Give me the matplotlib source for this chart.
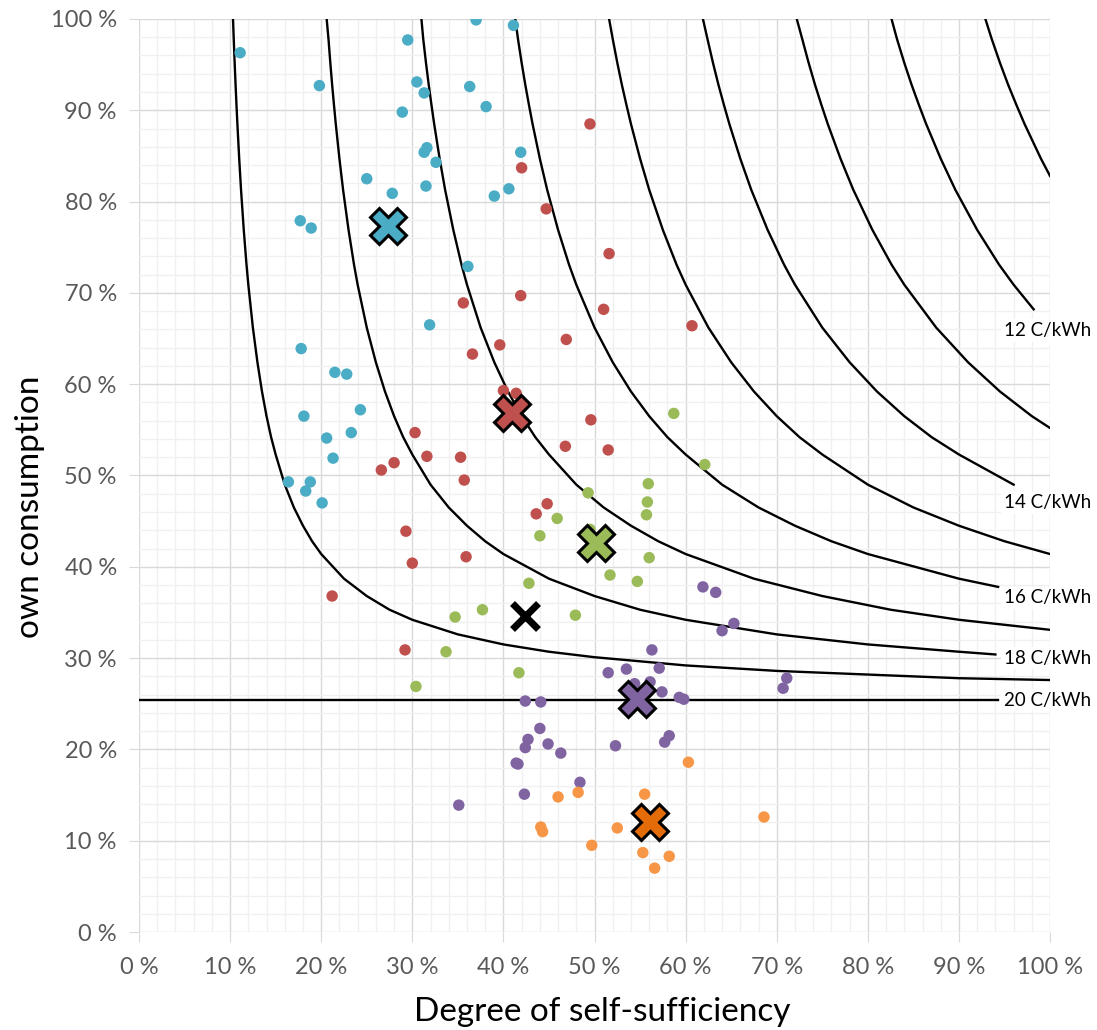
import matplotlib.pyplot as plt
from matplotlib.ticker import FuncFormatter, MultipleLocator

plt.rcParams["font.family"] = ["Lato", "DejaVu Sans"]

# Measured households: (self-sufficiency %, own consumption %)
BLUE_X = [11.1, 19.8, 29.5, 37.0, 41.1, 30.5, 31.3, 28.9, 36.3, 38.1, 41.9, 31.3, 31.6,
          32.6, 25.0, 27.8, 31.5, 39.0, 40.6, 17.7, 18.9, 36.1, 31.9, 17.8, 21.5, 22.8,
          24.3, 18.1, 23.3, 20.6, 21.3, 16.4, 18.8, 18.3, 20.1]
BLUE_Y = [96.3, 92.7, 97.7, 99.9, 99.3, 93.1, 91.9, 89.8, 92.6, 90.4, 85.4, 85.4, 85.9,
          84.3, 82.5, 80.9, 81.7, 80.6, 81.4, 77.9, 77.1, 72.9, 66.5, 63.9, 61.3, 61.1,
          57.2, 56.5, 54.7, 54.1, 51.9, 49.3, 49.3, 48.3, 47.0]

RED_X = [49.5, 42.0, 44.7, 51.6, 41.9, 51.0, 35.6, 60.7, 36.6, 39.6, 46.9, 40.0, 41.4,
         49.6, 51.5, 46.8, 30.3, 28.0, 26.6, 31.6, 35.3, 35.7, 43.6, 44.8, 29.3, 30.0,
         35.9, 21.2, 29.2]
RED_Y = [88.5, 83.7, 79.2, 74.3, 69.7, 68.2, 68.9, 66.4, 63.3, 64.3, 64.9, 59.3, 59.0,
         56.1, 52.8, 53.2, 54.7, 51.4, 50.6, 52.1, 52.0, 49.5, 45.8, 46.9, 43.9, 40.4,
         41.1, 36.8, 30.9]

GREEN_X = [58.7, 62.1, 49.3, 55.9, 55.8, 55.7, 45.9, 44.0, 49.5, 56.0, 51.7, 54.7, 42.8,
           37.7, 34.7, 47.9, 33.7, 30.4, 41.7]
GREEN_Y = [56.8, 51.2, 48.1, 49.1, 47.1, 45.7, 45.3, 43.4, 44.1, 41.0, 39.1, 38.4, 38.2,
           35.3, 34.5, 34.7, 30.7, 26.9, 28.4]

PURPLE_X = [61.9, 63.3, 65.3, 64.0, 56.3, 53.5, 51.5, 57.1, 54.4, 56.1, 57.4, 59.3, 59.8,
            71.1, 70.7, 42.4, 44.1, 44.0, 42.7, 42.4, 44.9, 46.3, 41.4, 41.6, 52.3, 57.7,
            58.2, 48.4, 42.3, 35.1, 53.7]
PURPLE_Y = [37.8, 37.2, 33.8, 33.0, 30.9, 28.8, 28.4, 28.9, 27.2, 27.4, 26.3, 25.7, 25.5,
            27.8, 26.7, 25.3, 25.2, 22.3, 21.1, 20.2, 20.6, 19.6, 18.5, 18.4, 20.4, 20.8,
            21.5, 16.4, 15.1, 13.9, 24.8]

ORANGE_X = [60.3, 55.5, 48.2, 46.0, 44.1, 44.3, 52.5, 49.7, 55.3, 58.2, 56.6, 68.6]
ORANGE_Y = [18.6, 15.1, 15.3, 14.8, 11.5, 11.0, 11.4, 9.5, 8.7, 8.3, 7.0, 12.6]

# Group means (big crosses) and the overall mean (black cross)
MEAN_X = [27.3, 40.9, 50.2, 54.7, 56.1]
MEAN_Y = [77.3, 56.8, 42.6, 25.5, 12.0]
ALL_MEAN = (42.4, 34.6)

COLORS = ["#4BACC6", "#C0504D", "#9BBB59", "#8064A2", "#F79646"]
MEAN_COLORS = ["#4BACC6", "#C0504D", "#9BBB59", "#8064A2", "#E36C09"]

# Iso-cost curves (ct/kWh). All share the same own-consumption levels; each
# curve lists its self-sufficiency values and, where cut short, its end value.
ISO_OWN = [100, 97.8, 95.2, 92.8, 90.6, 88.5, 84.7, 81.3, 76.9, 73.1, 70.9, 66.2, 62.4,
           59.2, 56.5, 54.2, 52.3, 49.0, 46.5, 44.5, 42.8, 41.4, 38.7, 36.8, 35.3, 34.2,
           32.6, 31.5, 30.7, 30.1, 29.2, 28.6, 28.2, 27.8, 27.6]
ISO_X = {
    19: [10.32, 10.4, 10.5, 10.6, 10.7, 10.8, 11.0, 11.2, 11.5, 11.8, 12.0, 12.5, 13.0,
         13.5, 14.0, 14.5, 15.0, 16.0, 17.0, 18.0, 19.0, 20.0, 22.5, 25.0, 27.5, 30.0,
         35.0, 40.0, 45.0, 50.0, 60.0, 70.0, 80.0, 90.0, 100.0],
    18: [20.6, 20.8, 21.0, 21.2, 21.4, 21.6, 22.0, 22.4, 23.0, 23.6, 24.0, 25.0, 26.0,
         27.0, 28.0, 29.0, 30.0, 32.0, 34.0, 36.0, 38.0, 40.0, 45.0, 50.0, 55.0, 60.0,
         70.0, 80.0, 90.0, 94.0],
    17: [31.0, 31.2, 31.5, 31.8, 32.1, 32.4, 33.0, 33.6, 34.5, 35.4, 36.0, 37.5, 39.0,
         40.5, 42.0, 43.5, 45.0, 48.0, 51.0, 54.0, 57.0, 60.0, 67.5, 75.0, 82.5, 90.0,
         100.0],
    16: [41.3, 41.6, 42.0, 42.4, 42.8, 43.2, 44.0, 44.8, 46.0, 47.2, 48.0, 50.0, 52.0,
         54.0, 56.0, 58.0, 60.0, 64.0, 68.0, 72.0, 76.0, 80.0, 90.0, 94.3],
    15: [51.6, 52.0, 52.5, 53.0, 53.5, 54.0, 55.0, 56.0, 57.5, 59.0, 60.0, 62.5, 65.0,
         67.5, 70.0, 72.5, 75.0, 80.0, 85.0, 90.0, 95.0, 100.0],
    14: [61.9, 62.4, 63.0, 63.6, 64.2, 64.8, 66.0, 67.2, 69.0, 70.8, 72.0, 75.0, 78.0,
         81.0, 84.0, 87.0, 90.0, 96.0],
    13: [72.2, 72.8, 73.5, 74.2, 74.9, 75.6, 77.0, 78.4, 80.5, 82.6, 84.0, 87.5, 91.0,
         94.5, 98.0, 100.0],
    12: [82.6, 83.2, 84.0, 84.8, 85.6, 86.4, 88.0, 89.6, 92.0, 94.4, 96.0, 98.2],
    11: [92.9, 93.6, 94.5, 95.4, 96.3, 97.2, 99.0, 100.0],
}
ISO_END_Y = {18: 30.4, 17: 33.1, 16: 37.8, 13: 55.2, 12: 68.2, 11: 82.8}
ISO_20_Y = 25.4
ISO_20_END = 94.3

LABELS = ["12 C/kWh", "14 C/kWh", "16 C/kWh", "18 C/kWh", "20 C/kWh"]
LABEL_Y = [65.9, 47.0, 36.6, 30.0, 25.4]

fig = plt.figure(figsize=(10.97, 10.30), dpi=100)
ax = fig.add_axes([0.1267, 0.0951, 0.8305, 0.8865])

# grid: major every 10 %, minor every 2 %
ax.xaxis.set_major_locator(MultipleLocator(10))
ax.yaxis.set_major_locator(MultipleLocator(10))
ax.xaxis.set_minor_locator(MultipleLocator(2))
ax.yaxis.set_minor_locator(MultipleLocator(2))
ax.grid(which="major", color="#D9D9D9", lw=1.0, zorder=0)
ax.grid(which="minor", color="#F0F0F0", lw=1.0, zorder=0)
ax.set_axisbelow(True)
for sp in ax.spines.values():
    sp.set_visible(False)

pct = FuncFormatter(lambda v, _: f"{int(round(v))} %")
ax.xaxis.set_major_formatter(pct)
ax.yaxis.set_major_formatter(pct)
ax.tick_params(which="major", length=7, color="#D9D9D9", labelcolor="#595959",
               labelsize=17)
ax.tick_params(axis="x", which="major", pad=11)
ax.tick_params(axis="y", which="major", pad=9)
ax.tick_params(which="minor", length=0)

ax.set_xlim(0, 100)
ax.set_ylim(0, 100)

# iso-cost lines
for c, xs in ISO_X.items():
    if c in ISO_END_Y:
        ys = ISO_OWN[:len(xs) - 1] + [ISO_END_Y[c]]
    else:
        ys = ISO_OWN[:len(xs)]
    ax.plot(xs, ys, color="black", lw=1.7, zorder=2)
ax.plot([0, ISO_20_END], [ISO_20_Y, ISO_20_Y], color="black", lw=1.7, zorder=2)

for txt, ly in zip(LABELS, LABEL_Y):
    ax.text(94.9, ly, txt, fontsize=13.5, va="center", ha="left", clip_on=False,
            bbox=dict(facecolor="white", edgecolor="none", pad=2), zorder=3)

# measured points
groups = [(BLUE_X, BLUE_Y), (RED_X, RED_Y), (GREEN_X, GREEN_Y),
          (PURPLE_X, PURPLE_Y), (ORANGE_X, ORANGE_Y)]
for (gx, gy), col in zip(groups, COLORS):
    ax.scatter(gx, gy, s=68, color=col, edgecolors="none", zorder=4)

# group means
for mx, my, col in zip(MEAN_X, MEAN_Y, MEAN_COLORS):
    ax.plot(mx, my, marker="X", markersize=26, markerfacecolor=col,
            markeredgecolor="black", markeredgewidth=2.2, zorder=5)
ax.plot(*ALL_MEAN, marker="x", markersize=19, color="black", markeredgewidth=5,
        zorder=5)

fig.text(602 / 1097, 1 - 1012 / 1030, "Degree of self-sufficiency", fontsize=24,
         ha="center", va="center")
fig.text(30 / 1097, 1 - 507 / 1030, "own consumption", fontsize=24,
         ha="center", va="center", rotation=90)

fig.savefig("out.png", dpi=100)
